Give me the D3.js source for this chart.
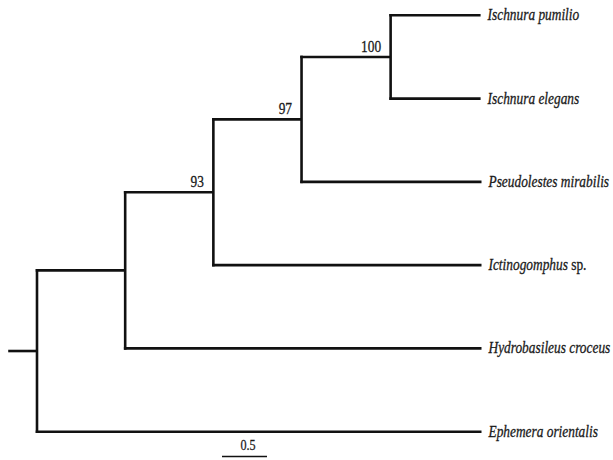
<!DOCTYPE html>
<html>
<head>
<meta charset="utf-8">
<script src="https://cdn.jsdelivr.net/npm/d3@7"></script>
<style>
  html, body { margin: 0; padding: 0; background: #fff; }
  svg { display: block; }
</style>
</head>
<body>
<svg id="chart" width="613" height="460"></svg>
<script>
// ---- data ----
const taxa = ["Ischnura pumilio", "Ischnura elegans", "Pseudolestes mirabilis",
              "Ictinogomphus sp.", "Hydrobasileus croceus", "Ephemera orientalis"];
const tipParents = ["D", "D", "C", "B", "A", "root"];
const tipBranchLengths = [1.00, 1.00, 2.00, 2.98, 3.96, 4.94];

const cladeNames = ["root", "A", "B", "C", "D"];
const cladeParents = [null, "root", "A", "B", "C"];
const cladeBranchLengths = [0.32, 0.98, 0.98, 0.98, 0.99];
const cladeSupport = [null, null, 93, 97, 100];

const scaleBarValue = 0.5;
const scaleBarLabel = "0.5";

// ---- build hierarchy ----
const rows = cladeNames.map((n, i) => ({ id: n, parent: cladeParents[i], len: cladeBranchLengths[i], support: cladeSupport[i] }))
  .concat(taxa.map((t, i) => ({ id: t, parent: tipParents[i], len: tipBranchLengths[i], support: null })));

const root = d3.stratify().id(d => d.id).parentId(d => d.parent)(rows);
root.eachBefore(n => { n.depthLen = n.parent ? n.parent.depthLen + n.data.len : 0; });
const maxDepth = d3.max(root.leaves(), d => d.depthLen);

const x = d3.scaleLinear().domain([0, maxDepth]).range([37, 481.5]);
const y = d3.scalePoint().domain(taxa).range([15.3, 431.7]);

root.eachAfter(n => {
  n.py = n.children ? d3.mean(n.children, c => c.py) : y(n.data.id);
  n.px = x(n.depthLen);
});

const svg = d3.select("#chart");
const g = svg.append("g");
const stroke = "#111";
const sw = 2.6;
const FONT = "'Liberation Serif', 'Times New Roman', serif";
const SQUEEZE = 0.81;
const textCol = "#1a1a1a";

function addText(px, py, size, anchor) {
  return g.append("text")
    .attr("transform", `translate(${px},${py}) scale(${SQUEEZE},1)`)
    .attr("text-anchor", anchor)
    .attr("font-family", FONT)
    .attr("font-size", size)
    .attr("fill", textCol)
    .attr("stroke", textCol)
    .attr("stroke-width", 0.3);
}

// root stub
g.append("line")
  .attr("x1", x(-root.data.len)).attr("x2", root.px)
  .attr("y1", root.py).attr("y2", root.py)
  .attr("stroke", stroke).attr("stroke-width", sw);

// horizontal branches
root.descendants().filter(n => n.parent).forEach(n => {
  g.append("line")
    .attr("x1", n.parent.px - sw / 2).attr("x2", n.px)
    .attr("y1", n.py).attr("y2", n.py)
    .attr("stroke", stroke).attr("stroke-width", sw);
});

// vertical connectors
root.descendants().filter(n => n.children).forEach(n => {
  const ys = n.children.map(c => c.py);
  g.append("line")
    .attr("x1", n.px).attr("x2", n.px)
    .attr("y1", d3.min(ys) - sw / 2).attr("y2", d3.max(ys) + sw / 2)
    .attr("stroke", stroke).attr("stroke-width", sw);
});

// support values
root.descendants().filter(n => n.data.support != null).forEach(n => {
  addText(n.px - 9.5, n.py - 5, 16.5, "end").text(n.data.support);
});

// tip labels
root.leaves().forEach(n => {
  const name = n.data.id;
  const t = addText(n.px + 7, n.py + 5, 16.5, "start");
  const m = name.match(/^(.*?)( sp\.)$/);
  if (m) {
    t.append("tspan").attr("font-style", "italic").text(m[1]);
    t.append("tspan").text(m[2]);
  } else {
    t.append("tspan").attr("font-style", "italic").text(name);
  }
});

// scale bar
const sbX0 = 222;
const sbY = 456.5;
const sbLen = x(scaleBarValue) - x(0);
g.append("line")
  .attr("x1", sbX0).attr("x2", sbX0 + sbLen)
  .attr("y1", sbY).attr("y2", sbY)
  .attr("stroke", stroke).attr("stroke-width", 1.6);
addText(sbX0 + sbLen / 2 + 3.5, sbY - 6.5, 15, "middle").text(scaleBarLabel);
</script>
</body>
</html>
